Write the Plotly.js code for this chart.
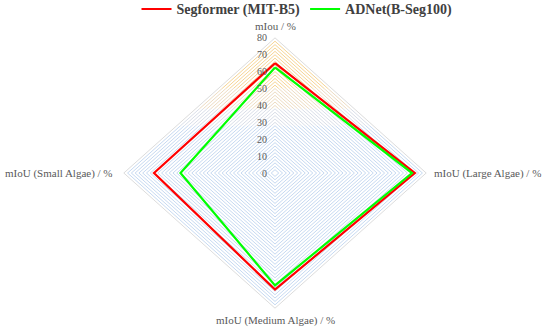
<!DOCTYPE html>
<html>
<head>
<meta charset="utf-8">
<script src="https://cdn.plot.ly/plotly-3.0.1.min.js"></script>
<style>html,body{margin:0;padding:0;background:#fff;}#chart{width:550px;height:330px;}</style>
</head>
<body>
<div id="chart"></div>
<script>
// ---- data ----
var axisLabels = ["mIou / %", "mIoU (Large Algae) / %", "mIoU (Medium Algae) / %", "mIoU (Small Algae) / %"];
var segformer = [65, 74, 69, 64];
var adnet = [62.5, 72.5, 66.5, 50];
var seriesNames = ["Segformer (MIT-B5)", "ADNet(B-Seg100)"];
var tickValues = [0, 10, 20, 30, 40, 50, 60, 70, 80];
var gridStep = 2;
var rMax = 80;

// ---- helpers ----
// axis directions: top, right, bottom, left
var dirs = [[0, 1], [1, 0], [0, -1], [-1, 0]];
function toXY(vals) {
  var xs = [], ys = [];
  for (var i = 0; i <= vals.length; i++) {
    var k = i % vals.length;
    xs.push(dirs[k][0] * vals[k]);
    ys.push(dirs[k][1] * vals[k]);
  }
  return {x: xs, y: ys};
}

var serif = "Liberation Serif, Times New Roman, serif";
var traces = [];

// gradient-like grid: colour bands by vertical position
var bands = [
  {lo: 50, hi: 1000, color: "#f6d595"},
  {lo: 38, hi: 50, color: "#eddcc2"},
  {lo: 28, hi: 38, color: "#d9dee8"},
  {lo: -1000, hi: 28, color: "#c6d9f1"}
];
var gridR = [];
for (var r = gridStep; r < rMax; r += gridStep) gridR.push(r);

bands.forEach(function (b) {
  var gx = [], gy = [];
  gridR.forEach(function (r) {
    var lo = Math.max(b.lo, 0), hi = Math.min(b.hi, r);
    if (hi > lo) {
      [-1, 1].forEach(function (s) {
        gx.push(s * (r - lo), s * (r - hi), null);
        gy.push(lo, hi, null);
      });
    }
    var lo2 = Math.max(b.lo, -r), hi2 = Math.min(b.hi, 0);
    if (hi2 > lo2) {
      [-1, 1].forEach(function (s) {
        gx.push(s * (r + lo2), s * (r + hi2), null);
        gy.push(lo2, hi2, null);
      });
    }
  });
  traces.push({x: gx, y: gy, mode: "lines", type: "scatter", showlegend: false,
    hoverinfo: "skip", line: {color: b.color, width: 1}});
});
var outer = toXY([rMax, rMax, rMax, rMax]);
traces.push({x: outer.x, y: outer.y, mode: "lines", type: "scatter", showlegend: false,
  hoverinfo: "skip", line: {color: "#dcdcdc", width: 1}});

var s1 = toXY(segformer), s2 = toXY(adnet);
traces.push({x: s1.x, y: s1.y, mode: "lines", type: "scatter", name: seriesNames[0],
  line: {color: "#ff0000", width: 2.2}});
traces.push({x: s2.x, y: s2.y, mode: "lines", type: "scatter", name: seriesNames[1],
  line: {color: "#00ff00", width: 2.2}});

var annotations = [];
tickValues.forEach(function (v) {
  annotations.push({x: 0, y: v, xref: "x", yref: "y", text: String(v), showarrow: false,
    xanchor: "right", yanchor: "middle", xshift: -6,
    font: {family: serif, size: 10, color: "#595959"}});
});
var labelPos = [
  {xa: "center", ya: "bottom", xs: 0, ys: 4},
  {xa: "left", ya: "middle", xs: 6, ys: 0},
  {xa: "center", ya: "top", xs: 0, ys: -4},
  {xa: "right", ya: "middle", xs: -9, ys: 0}
];
axisLabels.forEach(function (t, k) {
  annotations.push({x: dirs[k][0] * rMax, y: dirs[k][1] * rMax, xref: "x", yref: "y",
    text: t, showarrow: false, xanchor: labelPos[k].xa, yanchor: labelPos[k].ya,
    xshift: labelPos[k].xs, yshift: labelPos[k].ys,
    font: {family: serif, size: 11, color: "#595959"}});
});

var layout = {
  width: 550, height: 330,
  margin: {l: 0, r: 0, t: 0, b: 0, autoexpand: false},
  paper_bgcolor: "#ffffff", plot_bgcolor: "#ffffff",
  xaxis: {range: [-145.5, 145.5], visible: false, fixedrange: true},
  yaxis: {range: [-92.9, 102.4], visible: false, fixedrange: true},
  showlegend: true,
  legend: {orientation: "h", x: 0.54, xanchor: "center", y: 1.02, yanchor: "top",
    font: {family: serif, size: 14, color: "#404040", weight: "bold"},
    bgcolor: "rgba(0,0,0,0)", itemwidth: 30, tracegroupgap: 0},
  annotations: annotations,
  hovermode: false
};
Plotly.newPlot("chart", traces, layout, {staticPlot: true, displayModeBar: false});
</script>
</body>
</html>
